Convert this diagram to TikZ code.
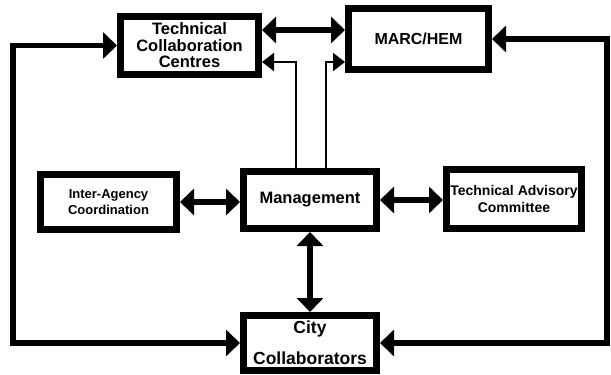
\documentclass[tikz,border=0pt]{standalone}
\usepackage{fontspec}
\setmainfont{Liberation Sans}
\usetikzlibrary{arrows.meta,calc}

\newcommand{\boxfont}[2]{\fontsize{#1}{#2}\selectfont\bfseries}

\tikzset{
  unit/.style={draw, line width=7pt, inner sep=0pt, align=center},
  link/.style={line width=5.5pt, {Triangle[length=14pt,width=26pt]}-{Triangle[length=14pt,width=26pt]}},
  feed/.style={line width=2pt, -{Triangle[length=12pt,width=18pt]}},
}

\begin{document}
\begin{tikzpicture}[x=1pt, y=-1pt]   %% pixel grid, y downwards
    \useasboundingbox (0,0) rectangle (611,375);

    % boxes
    \node[unit, minimum width=138pt, minimum height=58pt, font=\boxfont{16.5}{16.5}] (tcc) at (189.5,45.5) {Technical\\Collaboration\\Centres};
    \node[unit, minimum width=140pt, minimum height=61pt, font=\boxfont{16}{16}] (marc) at (418.5,39) {MARC/HEM};
    \node[unit, minimum width=136pt, minimum height=55pt, font=\boxfont{13}{16}] (inter) at (108.5,202) {Inter-Agency\\Coordination};
    \node[unit, minimum width=133pt, minimum height=57pt, font=\boxfont{16.5}{16.5}] (mgmt) at (310,200) {Management};
    \node[unit, minimum width=135pt, minimum height=59pt, font=\boxfont{14}{16.5}] (tac) at (514,199) {Technical Advisory\\Committee};
    \node[unit, minimum width=133pt, minimum height=55pt, font=\boxfont{17.5}{31}] (city) at (310,343) {City\\Collaborators};

    \coordinate (leftrail) at (13,0);
    \coordinate (rightrail) at (607,0);

    % thick two-way links
    \draw[link] ($(tcc.east)+(0,-15.5)$) -- ($(marc.west)+(0,-9)$);
    \draw[link] (inter.east) -- (inter.east -| mgmt.west);
    \draw[link] (mgmt.east) -- (mgmt.east -| tac.west);
    \draw[link] (mgmt.south) -- (city.north);
    \draw[link] (city.west) -| (leftrail |- tcc.west) -- (tcc.west);
    \draw[link] (city.east) -| (rightrail |- marc.east) -- (marc.east);

    % thin lines up from management
    \draw[feed] ([xshift=-14pt]mgmt.north) |- ($(tcc.east)+(0,16.5)$);
    \draw[feed] ([xshift=16pt]mgmt.north) |- ($(marc.west)+(0,23)$);
\end{tikzpicture}
\end{document}
